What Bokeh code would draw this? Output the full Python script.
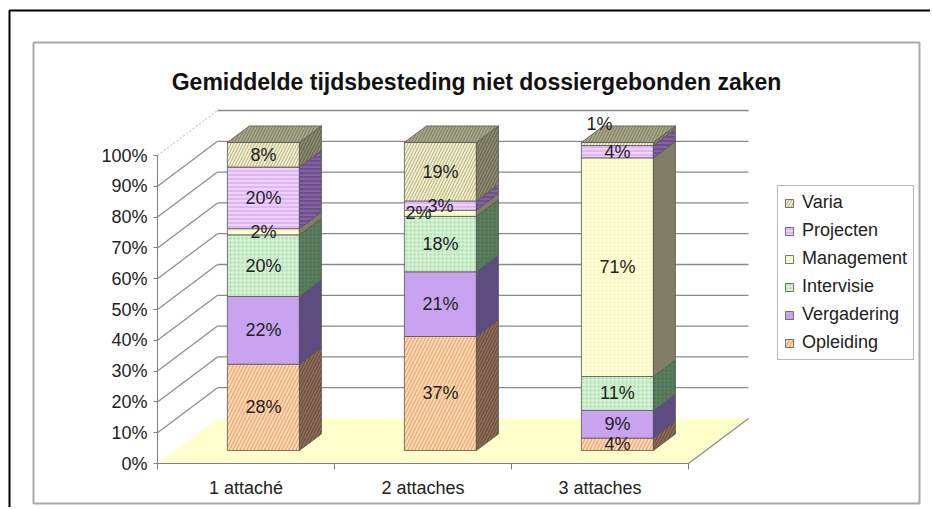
import numpy as np
from bokeh.plotting import figure
from bokeh.models import (Range1d, LinearAxis, FixedTicker, ColumnDataSource,
                          Legend, LegendItem)
from bokeh.core.properties import value
from bokeh.embed import file_html
from bokeh.resources import INLINE

# ---------------- data ----------------
title_text = "Gemiddelde tijdsbesteding niet dossiergebonden zaken"
categories = ["1 attaché", "2 attaches", "3 attaches"]
series = ["Opleiding", "Vergadering", "Intervisie", "Management", "Projecten", "Varia"]
opleiding = [28, 37, 4]
vergadering = [22, 21, 9]
intervisie = [20, 18, 11]
management = [2, 2, 71]
projecten = [20, 3, 4]
varia = [8, 19, 1]
y_ticks = [0, 10, 20, 30, 40, 50, 60, 70, 80, 90, 100]
y_tick_labels = ["0%", "10%", "20%", "30%", "40%", "50%", "60%", "70%", "80%", "90%", "100%"]

values = {"Opleiding": opleiding, "Vergadering": vergadering, "Intervisie": intervisie,
          "Management": management, "Projecten": projecten, "Varia": varia}

# ---------------- styles ----------------
FONT = "Liberation Sans"
front_style = {
    "Opleiding":   dict(fill_color="#FFDDC0", hatch_pattern="/", hatch_color="#F3A96E", hatch_scale=7, hatch_weight=1.4),
    "Vergadering": dict(fill_color="#C9A3F0"),
    "Intervisie":  dict(fill_color="#D0F0D0", hatch_pattern=".", hatch_color="#A8D8A8", hatch_scale=4),
    "Management":  dict(fill_color="#FFFFD4", hatch_pattern=".", hatch_color="#F0F0BA", hatch_scale=4),
    "Projecten":   dict(fill_color="#F0D2FF", hatch_pattern="-", hatch_color="#CC98F2", hatch_scale=4, hatch_weight=1),
    "Varia":       dict(fill_color="#F6F4CE", hatch_pattern="/", hatch_color="#BDBA92", hatch_scale=6, hatch_weight=1.2),
}
side_style = {
    "Opleiding":   dict(fill_color="#8E6D58", hatch_pattern="/", hatch_color="#6E503E", hatch_scale=6, hatch_weight=1.2),
    "Vergadering": dict(fill_color="#5E4B80"),
    "Intervisie":  dict(fill_color="#587D5C", hatch_pattern=".", hatch_color="#4A6B4E", hatch_scale=4),
    "Management":  dict(fill_color="#807E66"),
    "Projecten":   dict(fill_color="#6E5088", hatch_pattern="-", hatch_color="#9A70C0", hatch_scale=4, hatch_weight=1),
    "Varia":       dict(fill_color="#8B896E", hatch_pattern="/", hatch_color="#6B6952", hatch_scale=6, hatch_weight=1.2),
}
top_style = dict(fill_color="#ABA889", hatch_pattern="/", hatch_color="#85836A", hatch_scale=6, hatch_weight=1.2)
EDGE = "#555555"
GRID = "#8a8a8a"

# ---------------- geometry (screen -> data) ----------------
W, H = 930, 507
OFF = 0
AX_X, AX_Y = 157.0, 463.0      # screen position of the value axis / 0% line
PX_CAT, PX_PCT = 177.0, 3.08   # pixels per category, pixels per percent


def dx(sx):
    return (sx - AX_X) / PX_CAT


def dy(sy):
    return (AX_Y - sy) / PX_PCT


DEPTH_X = 60.0 / PX_CAT
DEPTH_Y = 45.0 / PX_PCT
BAR_W = 72.0 / PX_CAT
FRONT = 0.29
BAR_D = 0.367
ox, oy = FRONT * DEPTH_X, FRONT * DEPTH_Y
sx_, sy_ = BAR_D * DEPTH_X, BAR_D * DEPTH_Y
n_cat = len(categories)

p = figure(width=W, height=H, x_range=Range1d(dx(OFF), dx(OFF + W)),
           y_range=Range1d(dy(OFF + H), dy(OFF)), x_axis_type=None, y_axis_type=None,
           toolbar_location=None, output_backend="svg", min_border=0,
           min_border_left=0, min_border_right=0, min_border_top=0, min_border_bottom=0,
           outline_line_color=None, background_fill_color="white", border_fill_color="white")

# outer frame lines
p.line([dx(9), dx(9), dx(940)], [dy(520), dy(10), dy(10)], line_color="black", line_width=2)
p.line([dx(33), dx(33), dx(919), dx(919), dx(33)],
       [dy(42), dy(503), dy(503), dy(42), dy(42)], line_color="#a8a8a8", line_width=2)

# title
p.text(x=[dx(476)], y=[dy(81)], text=[title_text], text_font=value(FONT),
       text_font_size="23px", text_font_style="bold", text_color="#111111",
       text_align="center", text_baseline="alphabetic")

# floor
p.patch([0, n_cat, n_cat + DEPTH_X, DEPTH_X], [0, 0, DEPTH_Y, DEPTH_Y],
        fill_color="#FFFFCC", line_color=None)
p.line([n_cat, n_cat + DEPTH_X], [0, DEPTH_Y], line_color=GRID, line_width=1.2)

# walls: gridlines
gv = y_ticks[1:-1]
top_v = y_ticks[-1]
p.segment(x0=[0] * len(gv), y0=gv, x1=[DEPTH_X] * len(gv), y1=[v + DEPTH_Y for v in gv],
          line_color=GRID, line_width=1.2)
p.segment(x0=[0], y0=[top_v], x1=[DEPTH_X], y1=[top_v + DEPTH_Y],
          line_color="#b0b0b0", line_width=1, line_dash="2 2")
gv_all = y_ticks[1:]
p.segment(x0=[DEPTH_X] * len(gv_all), y0=[v + DEPTH_Y for v in gv_all],
          x1=[n_cat + DEPTH_X] * len(gv_all), y1=[v + DEPTH_Y for v in gv_all],
          line_color=GRID, line_width=1.3)

# bars
centers = np.arange(n_cat) + 0.5
cum = np.zeros(n_cat)
front_renderers = {}
label_x, label_y, label_t = [], [], []
nudges = {("Management", 1): (-22, 0), ("Varia", 2): (-18, 20)}
for s in series:
    vals = np.array(values[s], dtype=float)
    bottoms = cum.copy()
    tops = cum + vals
    left = centers - BAR_W / 2 + ox
    right = centers + BAR_W / 2 + ox
    src = ColumnDataSource(dict(left=left, right=right, bottom=bottoms + oy, top=tops + oy))
    front_renderers[s] = p.quad(left="left", right="right", bottom="bottom", top="top",
                                source=src, line_color=EDGE, line_width=0.8, **front_style[s])
    xs = [[r, r + sx_, r + sx_, r] for r in right]
    ys = [[b + oy, b + oy + sy_, t + oy + sy_, t + oy] for b, t in zip(bottoms, tops)]
    p.patches(xs, ys, line_color=EDGE, line_width=0.8, **side_style[s])
    for i in range(n_cat):
        nx, ny = nudges.get((s, i), (0, 0))
        label_x.append((left[i] + right[i]) / 2 + nx / PX_CAT)
        label_y.append((bottoms[i] + tops[i]) / 2 + oy + ny / PX_PCT)
        label_t.append(f"{int(vals[i])}%")
    cum = tops

# top faces
left = centers - BAR_W / 2 + ox
right = centers + BAR_W / 2 + ox
txs = [[l, l + sx_, r + sx_, r] for l, r in zip(left, right)]
tys = [[t + oy, t + oy + sy_, t + oy + sy_, t + oy] for t in cum]
p.patches(txs, tys, line_color=EDGE, line_width=0.8, **top_style)

p.text(x=label_x, y=label_y, text=label_t, text_font=value(FONT), text_font_size="18px",
       text_color="#222222", text_align="center", text_baseline="middle")

# axes
yaxis = LinearAxis(fixed_location=0, ticker=FixedTicker(ticks=y_ticks), bounds=(0, 100),
                   major_label_overrides={t: l for t, l in zip(y_ticks, y_tick_labels)},
                   axis_line_color="#808080", major_tick_line_color="#808080",
                   major_tick_in=0, major_tick_out=4, minor_tick_line_color=None,
                   major_label_text_font=FONT, major_label_text_font_size="18px",
                   major_label_text_color="#222222", major_label_standoff=6)
p.add_layout(yaxis, "left")

bounds_ticks = list(range(n_cat + 1))
xaxis_t = LinearAxis(fixed_location=0, ticker=FixedTicker(ticks=bounds_ticks), bounds=(0, n_cat),
                     major_label_overrides={t: "" for t in bounds_ticks},
                     axis_line_color="#808080", major_tick_line_color="#808080",
                     major_tick_in=0, major_tick_out=6, minor_tick_line_color=None)
p.add_layout(xaxis_t, "below")
xaxis_l = LinearAxis(fixed_location=0, ticker=FixedTicker(ticks=list(centers)),
                     major_label_overrides={float(c): cat for c, cat in zip(centers, categories)},
                     axis_line_color=None, major_tick_line_color=None, minor_tick_line_color=None,
                     major_tick_in=0, major_tick_out=0,
                     major_label_text_font=FONT, major_label_text_font_size="18px",
                     major_label_text_color="#222222", major_label_standoff=14)
p.add_layout(xaxis_l, "below")

# legend
items = [LegendItem(label=s, renderers=[front_renderers[s]]) for s in reversed(series)]
legend = Legend(items=items, location=(777, H - 360), label_text_font=FONT,
                label_text_font_size="18px", label_text_color="#222222",
                glyph_width=10, glyph_height=10, label_height=20, spacing=7, padding=6,
                margin=0, label_standoff=8, border_line_color="#6f6f6f",
                border_line_width=1.5, background_fill_color="white")
p.add_layout(legend)

open("out.html", "w").write(file_html(p, INLINE))
